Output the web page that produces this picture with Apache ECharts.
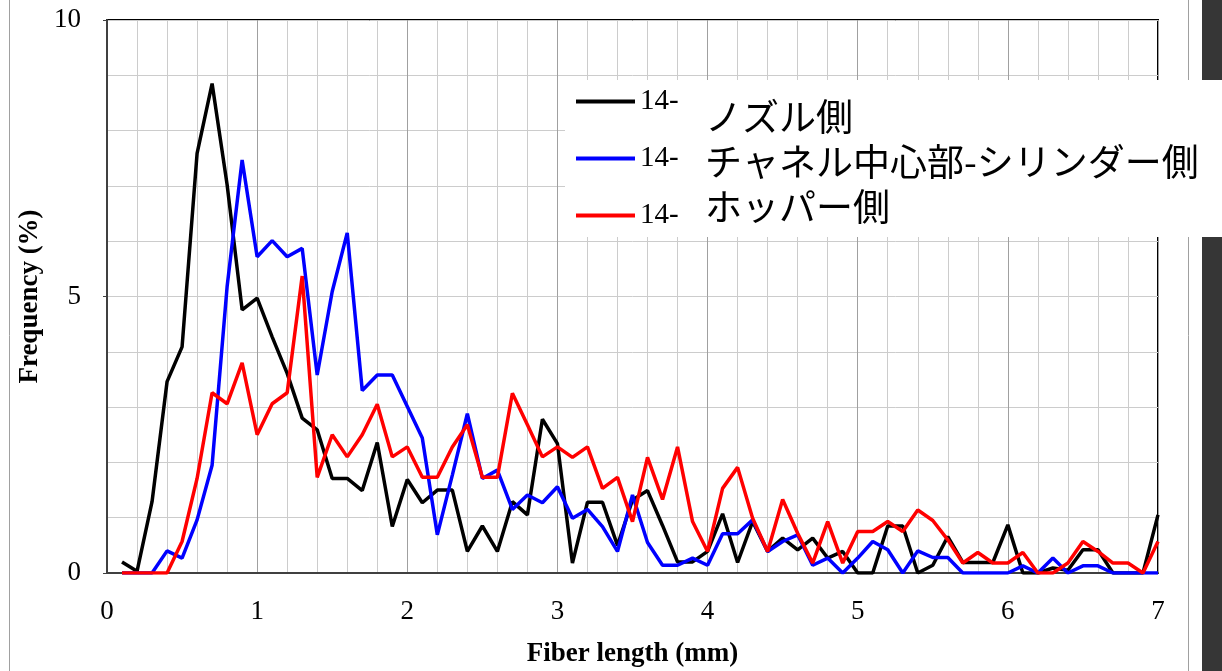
<!DOCTYPE html>
<html>
<head>
<meta charset="utf-8">
<script src="https://cdn.jsdelivr.net/npm/echarts@6/dist/echarts.min.js"></script>
<style>
  html, body { margin: 0; padding: 0; background: #fff; }
  #chart { width: 1222px; height: 671px; }
</style>
</head>
<body>
<div id="chart"></div>
<script>
// Fiber length classes (mm)
const fiberLength = [
  0.1, 0.2, 0.3, 0.4, 0.5, 0.6, 0.7, 0.8, 0.9, 1.0,
  1.1, 1.2, 1.3, 1.4, 1.5, 1.6, 1.7, 1.8, 1.9, 2.0,
  2.1, 2.2, 2.3, 2.4, 2.5, 2.6, 2.7, 2.8, 2.9, 3.0,
  3.1, 3.2, 3.3, 3.4, 3.5, 3.6, 3.7, 3.8, 3.9, 4.0,
  4.1, 4.2, 4.3, 4.4, 4.5, 4.6, 4.7, 4.8, 4.9, 5.0,
  5.1, 5.2, 5.3, 5.4, 5.5, 5.6, 5.7, 5.8, 5.9, 6.0,
  6.1, 6.2, 6.3, 6.4, 6.5, 6.6, 6.7, 6.8, 6.9, 7.0
];

// Frequency (%) per class
const nozzleSide = [
  0.20, 0.03, 1.29, 3.46, 4.09, 7.59, 8.85, 7.02, 4.76, 4.97,
  4.27, 3.61, 2.80, 2.59, 1.71, 1.71, 1.49, 2.36, 0.84, 1.69,
  1.27, 1.50, 1.50, 0.39, 0.85, 0.39, 1.29, 1.05, 2.78, 2.34,
  0.18, 1.28, 1.28, 0.50, 1.32, 1.49, 0.86, 0.20, 0.20, 0.39,
  1.07, 0.19, 0.93, 0.39, 0.63, 0.42, 0.63, 0.27, 0.39, 0.00,
  0.00, 0.85, 0.85, 0.00, 0.14, 0.66, 0.19, 0.19, 0.19, 0.87,
  0.00, 0.00, 0.09, 0.05, 0.42, 0.42, 0.00, 0.00, 0.00, 1.05
];
const channelCylinderSide = [
  0.00, 0.00, 0.00, 0.40, 0.27, 0.96, 1.95, 5.18, 7.47, 5.72,
  6.01, 5.72, 5.87, 3.58, 5.09, 6.15, 3.30, 3.58, 3.58, 3.01,
  2.44, 0.69, 1.77, 2.88, 1.71, 1.86, 1.15, 1.41, 1.27, 1.56,
  0.99, 1.15, 0.84, 0.39, 1.41, 0.55, 0.14, 0.14, 0.27, 0.14,
  0.71, 0.71, 0.96, 0.39, 0.57, 0.69, 0.14, 0.27, 0.00, 0.27,
  0.57, 0.42, 0.00, 0.40, 0.28, 0.28, 0.00, 0.00, 0.00, 0.00,
  0.13, 0.00, 0.27, 0.00, 0.13, 0.13, 0.00, 0.00, 0.00, 0.00
];
const hopperSide = [
  0.00, 0.00, 0.00, 0.00, 0.57, 1.71, 3.26, 3.06, 3.80, 2.50,
  3.06, 3.26, 5.37, 1.73, 2.50, 2.10, 2.50, 3.05, 2.10, 2.28,
  1.73, 1.73, 2.28, 2.68, 1.73, 1.73, 3.25, 2.68, 2.10, 2.28,
  2.09, 2.28, 1.53, 1.73, 0.93, 2.09, 1.33, 2.28, 0.93, 0.39,
  1.53, 1.91, 0.99, 0.39, 1.33, 0.72, 0.18, 0.93, 0.18, 0.75,
  0.75, 0.93, 0.75, 1.14, 0.95, 0.60, 0.18, 0.37, 0.18, 0.18,
  0.37, 0.00, 0.00, 0.18, 0.57, 0.39, 0.18, 0.18, 0.00, 0.57
];

const seriesNames = ['14-ノズル側', '14-チャネル中心部-シリンダー側', '14-ホッパー側'];
const legendPrefix = '14-';
const legendCaptions = ['ノズル側', 'チャネル中心部-シリンダー側', 'ホッパー側'];
const xTickValues = [0, 1, 2, 3, 4, 5, 6, 7];
const yTickValues = [0, 5, 10];

const seriesColors = ['#000000', '#0000ff', '#ff0000'];
const serif = '"Liberation Serif", "Times New Roman", serif';
const cjk = '"Noto Sans CJK JP", "Noto Sans", sans-serif';

function pairs(values) {
  return fiberLength.map((x, i) => [x, values[i]]);
}

const chart = echarts.init(document.getElementById('chart'), null, { renderer: 'canvas' });

const gridLeft = 107, gridTop = 20, gridRight = 64, gridBottom = 98;

function caption(text, y) {
  return {
    type: 'text', z: 21,
    style: {
      text, x: 705, y, font: '37px ' + cjk, fill: '#000',
      textAlign: 'left', textVerticalAlign: 'middle', align: 'left', verticalAlign: 'middle'
    }
  };
}

chart.setOption({
  backgroundColor: '#ffffff',
  animation: false,
  grid: {
    left: gridLeft, top: gridTop, right: gridRight, bottom: gridBottom,
    containLabel: false, outerBoundsMode: 'none',
    show: true, borderColor: '#000', borderWidth: 2, backgroundColor: 'transparent'
  },
  xAxis: {
    type: 'value', min: 0, max: 7, interval: 1,
    name: 'Fiber length (mm)', nameLocation: 'middle', nameGap: 68,
    nameTextStyle: { fontFamily: serif, fontSize: 27, fontWeight: 'bold', color: '#000' },
    axisLine: { show: true, onZero: false, lineStyle: { color: '#404040', width: 2 } },
    axisTick: { show: false },
    minorTick: { show: false, splitNumber: 5 },
    axisLabel: {
      fontFamily: serif, fontSize: 27, color: '#000', margin: 25,
      formatter: v => (xTickValues.includes(Math.round(v)) ? String(Math.round(v)) : '')
    },
    splitLine: { show: true, lineStyle: { color: '#a0a0a0', width: 1 } },
    minorSplitLine: { show: true, lineStyle: { color: '#cccccc', width: 1 } }
  },
  yAxis: {
    type: 'value', min: 0, max: 10, interval: 5,
    name: 'Frequency (%)', nameLocation: 'middle', nameGap: 60,
    nameTextStyle: { fontFamily: serif, fontSize: 27, fontWeight: 'bold', color: '#000' },
    axisLine: { show: true, lineStyle: { color: '#404040', width: 2 } },
    axisTick: { show: true, length: 4, lineStyle: { color: '#404040' } },
    minorTick: { show: false, splitNumber: 5 },
    axisLabel: {
      fontFamily: serif, fontSize: 27, color: '#000', margin: 26,
      formatter: v => (yTickValues.includes(v) ? String(v) : '')
    },
    splitLine: { show: true, lineStyle: { color: '#cccccc', width: 1 } },
    minorSplitLine: { show: true, lineStyle: { color: '#cccccc', width: 1 } }
  },
  legend: {
    orient: 'vertical', left: 576, top: 87, padding: 0, itemGap: 28,
    itemWidth: 59, itemHeight: 4, icon: 'rect',
    formatter: () => legendPrefix,
    textStyle: { fontFamily: serif, fontSize: 29, color: '#000' },
    data: seriesNames,
    z: 10
  },
  series: [nozzleSide, channelCylinderSide, hopperSide].map((vals, i) => ({
    name: seriesNames[i],
    type: 'line',
    data: pairs(vals),
    symbol: 'none',
    color: seriesColors[i],
    lineStyle: { color: seriesColors[i], width: 3.5 },
    z: 2 + i
  })),
  graphic: {
    elements: [
      // page frame
      { type: 'line', z: 1, shape: { x1: 9.5, y1: 0, x2: 9.5, y2: 671 }, style: { stroke: '#a0a0a0', lineWidth: 1 } },
      { type: 'line', z: 1, shape: { x1: 1188.5, y1: 0, x2: 1188.5, y2: 671 }, style: { stroke: '#a0a0a0', lineWidth: 1 } },
      { type: 'rect', z: 1, shape: { x: 1202, y: 0, width: 20, height: 671 }, style: { fill: '#363636' } },
      // legend box background
      { type: 'rect', z: 5, shape: { x: 565, y: 80, width: 118, height: 157 }, style: { fill: '#ffffff' } },
      // caption panel
      { type: 'rect', z: 20, shape: { x: 683, y: 80, width: 539, height: 157 }, style: { fill: '#ffffff' } },
      caption(legendCaptions[0], 117),
      caption(legendCaptions[1], 162),
      caption(legendCaptions[2], 207)
    ]
  }
});
</script>
</body>
</html>
